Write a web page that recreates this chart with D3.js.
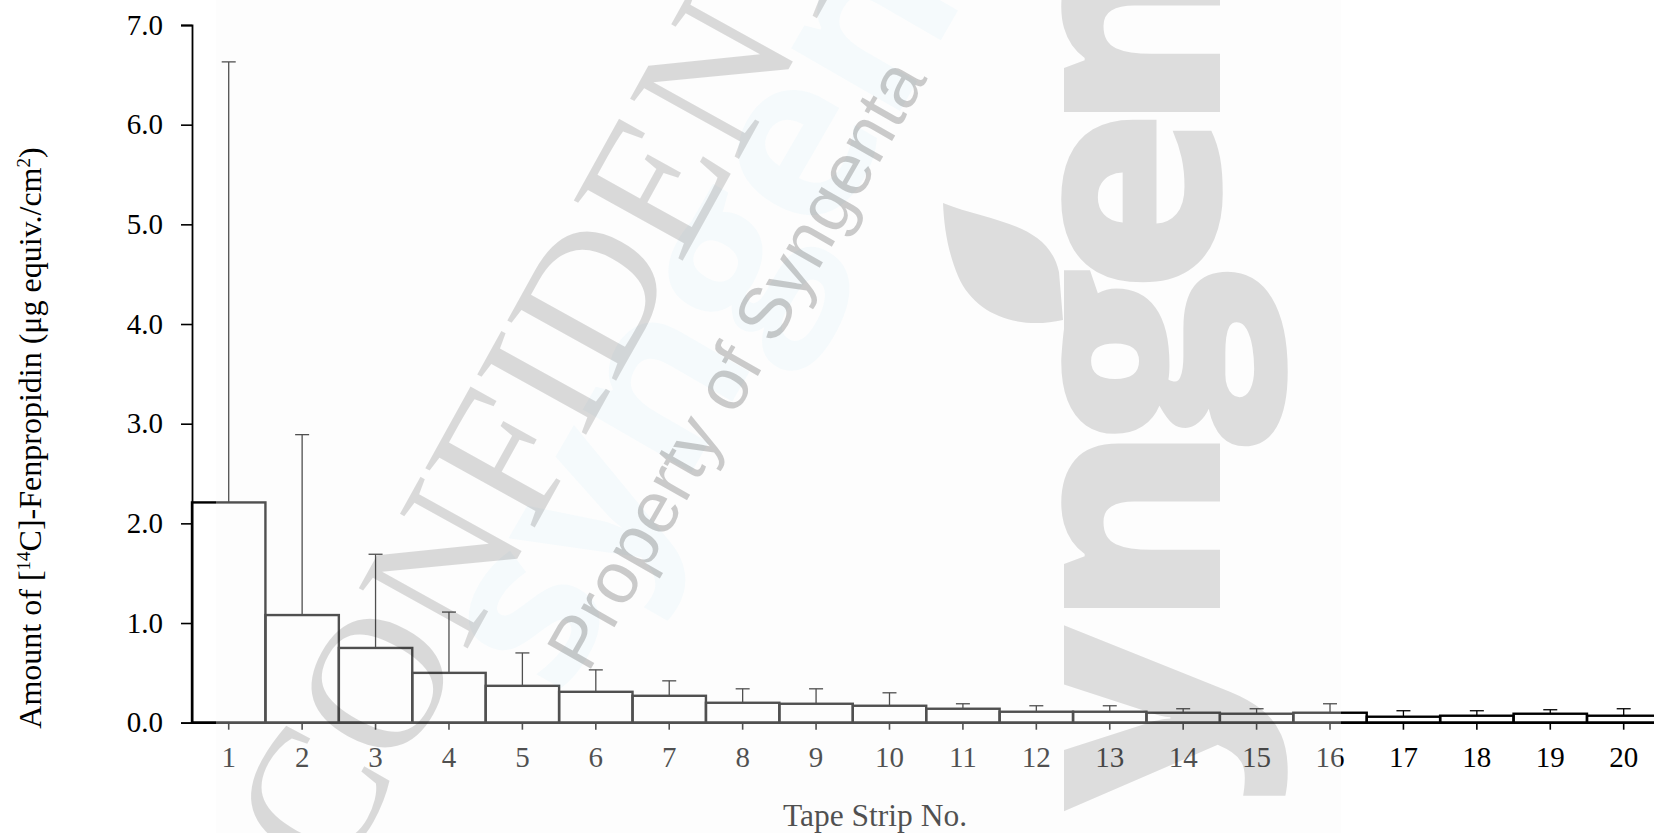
<!DOCTYPE html>
<html>
<head>
<meta charset="utf-8">
<script src="https://cdn.jsdelivr.net/npm/d3@7"></script>
<style>
  html, body { margin: 0; padding: 0; background: #fff; }
  svg { display: block; }
  text { font-family: "Liberation Serif", "Times New Roman", serif; }
</style>
</head>
<body>
<svg id="chart" width="1654" height="833"></svg>
<script>
// ---- data ----
const strips = ["1","2","3","4","5","6","7","8","9","10","11","12","13","14","15","16","17","18","19","20"];
const means  = [2.21,1.08,0.75,0.50,0.37,0.31,0.27,0.20,0.19,0.17,0.14,0.11,0.11,0.10,0.09,0.10,0.06,0.07,0.09,0.07];
const sds    = [4.42,1.81,0.94,0.61,0.33,0.22,0.15,0.14,0.15,0.13,0.05,0.06,0.06,0.04,0.05,0.09,0.06,0.05,0.04,0.07];
const yTickValues = [0,1,2,3,4,5,6,7];
const xTitle = "Tape Strip No.";

const svg = d3.select("#chart");
const W = 1654, H = 833;

const x = d3.scaleBand().domain(strips).range([192, 1660.4]).padding(0);
const xLin = d3.scaleLinear().domain([0.5, 20.5]).range([192, 1660.4]);
const y = d3.scaleLinear().domain([0, 7]).range([722.7, 25]);

const chart = svg.append("g");

// bars
chart.selectAll("rect.bar").data(strips).join("rect")
  .attr("class", "bar")
  .attr("x", d => x(d))
  .attr("width", x.bandwidth())
  .attr("y", (d, i) => y(means[i]))
  .attr("height", (d, i) => y(0) - y(means[i]))
  .attr("fill", "none")
  .attr("stroke", "#000")
  .attr("stroke-width", 2.4);

// error bars (upper only)
const cap = 7;
const eb = chart.append("g").attr("stroke", "#000").attr("stroke-width", 1.3);
strips.forEach((d, i) => {
  const cx = x(d) + x.bandwidth() / 2;
  eb.append("line").attr("x1", cx).attr("x2", cx)
    .attr("y1", y(means[i])).attr("y2", y(means[i] + sds[i]));
  eb.append("line").attr("x1", cx - cap).attr("x2", cx + cap)
    .attr("y1", y(means[i] + sds[i])).attr("y2", y(means[i] + sds[i]));
});

// y axis
const yAxisG = chart.append("g").attr("transform", "translate(192,0)");
yAxisG.call(d3.axisLeft(y).tickValues(d3.range(0, 35).map(k => k * 0.2)).tickSize(8).tickFormat(""));
yAxisG.call(d3.axisLeft(y).tickValues(yTickValues).tickSize(11).tickPadding(18).tickFormat(d3.format(".1f")));
yAxisG.selectAll("path.domain").attr("stroke", "#000").attr("stroke-width", 1.8);
yAxisG.selectAll(".tick line").attr("stroke", "#000").attr("stroke-width", 1.6);
yAxisG.selectAll(".tick text")
  .attr("font-family", "Liberation Serif, serif").attr("font-size", 29).attr("fill", "#000");

// x axis
const xAxisG = chart.append("g").attr("transform", "translate(0," + y(0) + ")");
xAxisG.call(d3.axisBottom(xLin).tickValues(d3.range(0, 21).map(k => k + 0.5)).tickSize(9).tickFormat(""));
xAxisG.call(d3.axisBottom(x).tickSize(7).tickPadding(17));
xAxisG.selectAll("path.domain").attr("stroke", "#000").attr("stroke-width", 2.4).attr("d", "M192,0H1660.4");
xAxisG.selectAll(".tick line").attr("stroke", "#000").attr("stroke-width", 1.6);
xAxisG.selectAll(".tick text")
  .attr("font-family", "Liberation Serif, serif").attr("font-size", 29).attr("fill", "#000");

// axis titles
chart.append("text")
  .attr("x", 875).attr("y", 826)
  .attr("text-anchor", "middle")
  .attr("font-size", 31.5)
  .attr("fill", "#000")
  .text(xTitle);

const yt = chart.append("text")
  .attr("transform", "translate(41,438) rotate(-90)")
  .attr("text-anchor", "middle")
  .attr("font-size", 32)
  .attr("fill", "#000");
yt.append("tspan").text("Amount of [");
yt.append("tspan").attr("font-size", 19).attr("dy", -11).text("14");
yt.append("tspan").attr("dy", 11).text("C]-Fenpropidin (μg equiv./cm");
yt.append("tspan").attr("font-size", 19).attr("dy", -11).text("2");
yt.append("tspan").attr("dy", 11).text(")");

// ---- watermark overlay ----
const wm = svg.append("g").attr("pointer-events", "none");
wm.append("rect").attr("x", 216).attr("y", 0).attr("width", 1341 - 216).attr("height", H)
  .attr("fill", "#fafafa").attr("fill-opacity", 0.32);

// faint cyan mark
wm.append("text")
  .attr("transform", "translate(560,700) rotate(-60)")
  .style("font-family", "'Open Sans', 'DejaVu Sans', sans-serif")
  .attr("font-weight", 700)
  .attr("font-size", 230)
  .attr("fill", "#3cb4e6").attr("fill-opacity", 0.045)
  .text("syngenta");

// big "syngenta" letters (reading bottom to top)
const big = [["s", 905], ["y", 718], ["n", 526], ["g", 357], ["e", 201], ["n", 30]];
big.forEach(([ch, cy]) => {
  wm.append("text")
    .attr("transform", `translate(1220,${cy}) rotate(-90) scale(1.08,1)`)
    .attr("text-anchor", "middle")
    .style("font-family", "'Open Sans', 'DejaVu Sans', sans-serif")
    .attr("font-weight", 800)
    .attr("font-size", 282)
    .attr("fill", "#000").attr("fill-opacity", 0.125)
    .text(ch);
});
// leaf
wm.append("path")
  .attr("d", "M943,203 C990,222 1048,222 1059,272 L1063,320 C1020,330 975,316 958,276 C948,252 944,228 943,203 Z")
  .attr("fill", "#000").attr("fill-opacity", 0.125);

// CONFIDENTIAL
wm.append("text")
  .attr("transform", "translate(337,884) rotate(-61)")
  .attr("font-family", "Liberation Serif, serif")
  .attr("font-size", 190)
  .attr("fill", "#000").attr("fill-opacity", 0.14)
  .text("CONFIDENTIAL");

// Property of Syngenta
wm.append("text")
  .attr("transform", "translate(588,674) rotate(-60.3)")
  .style("font-family", "'Liberation Sans', Arial, sans-serif")
  .attr("font-size", 73)
  .attr("fill", "#000").attr("fill-opacity", 0.2)
  .text("Property of Syngenta");
</script>
</body>
</html>
